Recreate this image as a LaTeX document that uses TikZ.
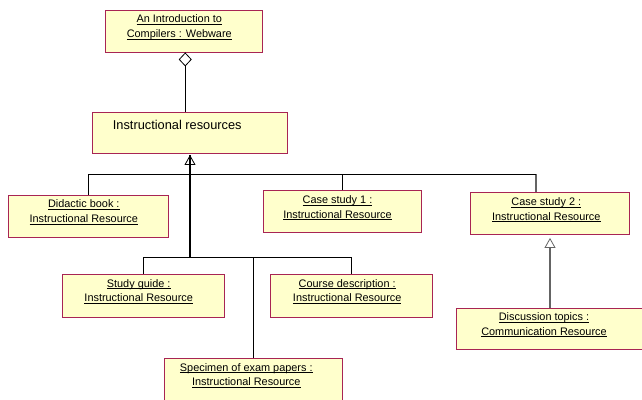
\documentclass[tikz,border=0pt]{standalone}
\usepackage{fontspec}
\setmainfont{Liberation Sans}
\usetikzlibrary{arrows.meta,calc}
\definecolor{boxfill}{RGB}{255,255,204}
\definecolor{boxline}{RGB}{168,36,84}
\definecolor{linkgray}{RGB}{100,100,100}
% underline at a fixed depth below the baseline
\newcommand{\uln}[1]{\setbox0\hbox{#1}\rlap{\rule[-2.2pt]{\wd0}{0.75pt}}\box0}
\begin{document}
\begin{tikzpicture}[x=1pt,y=-1pt,
  obj/.style={draw=boxline, fill=boxfill, line width=0.9pt, inner sep=0pt},
  lbl/.style={font=\fontsize{10.9}{14.7}\selectfont, align=center, inner sep=0pt},
  link/.style={draw, line width=0.8pt},
  greylink/.style={draw=linkgray, line width=1.4pt},
  gentip/.style={-{Triangle[open,length=10pt,width=11pt,line width=0.8pt]}}
]
\useasboundingbox (0,0) rectangle (642,399);
\clip (0,0) rectangle (642,399);

% object boxes
\node[obj, minimum width=156.5pt, minimum height=42pt] (top) at (183.75,31) {};
\node[obj, minimum width=195.4pt, minimum height=41pt] (ir) at (190,132.5) {};
\node[obj, minimum width=160pt, minimum height=42pt] (did) at (88.3,216) {};
\node[obj, minimum width=158pt, minimum height=41.3pt] (cs1) at (342,211.3) {};
\node[obj, minimum width=158.3pt, minimum height=41.3pt] (cs2) at (549.8,213.3) {};
\node[obj, minimum width=162.3pt, minimum height=43pt] (sg) at (143.2,295.5) {};
\node[obj, minimum width=162pt, minimum height=43pt] (cd) at (351.7,295.5) {};
\node[obj, minimum width=178.7pt, minimum height=43pt] (sp) at (253.3,379.5) {};
\node[obj, minimum width=192pt, minimum height=41.7pt] (dt) at (552.7,328.8) {};

% labels
\node[lbl] (top-t) at ($(top)+(-4.5,-4)$) {\uln{An Introduction to}\\\uln{Compilers : Webware}};
\node[anchor=west, inner sep=0pt, font=\fontsize{12.8}{15}\selectfont] (ir-t) at (112.7,125) {Instructional resources};
\node[lbl] (did-t) at ($(did)+(-4.5,-4)$) {\uln{Didactic book :}\\\uln{Instructional Resource}};
\node[lbl] (cs1-t) at ($(cs1)+(-4.5,-3.5)$) {\uln{Case study 1 :}\\\uln{Instructional Resource}};
\node[lbl] (cs2-t) at ($(cs2)+(-3.5,-3.5)$) {\uln{Case study 2 :}\\\uln{Instructional Resource}};
\node[lbl] (sg-t) at ($(sg)+(-4.5,-4)$) {\uln{Study guide :}\\\uln{Instructional Resource}};
\node[lbl] (cd-t) at ($(cd)+(-4.5,-4)$) {\uln{Course description :}\\\uln{Instructional Resource}};
\node[lbl] (sp-t) at ($(sp)+(-7,-4)$) {\uln{Specimen of exam papers :}\\\uln{Instructional Resource}};
\node[lbl] (dt-t) at ($(dt)+(-8.7,-4)$) {\uln{Discussion topics :}\\\uln{Communication Resource}};

% aggregation: the course is made of its instructional resources
\draw[link, {Diamond[open,length=14pt,width=13pt,line width=0.8pt]}-]
  ([xshift=1.5pt]top.south) -- ([xshift=1.5pt]top.south |- ir.north);

% generalization tree
\coordinate (j1) at (190,174);
\coordinate (j2) at (190,257.5);
\draw[link] (did.north) |- (j1);
\draw[link] (cs1.north) |- (j1);
\draw[greylink] ([xshift=-13.8pt]cs2.north) -- ([xshift=-13.8pt]cs2.north |- j1);
\draw[link] ([xshift=-13.8pt]cs2.north |- j1) -- (j1);
\draw[link] (sg.north) |- (j2);
\draw[link] (cd.north) |- (j2);
\draw[link] (sp.north) |- (j2);
\draw[line width=1.6pt] (j2) -- ([yshift=-1.5pt]ir.south);
\draw[link, gentip] ([yshift=-13.5pt]ir.south) -- ([yshift=-1.5pt]ir.south);

% specialization of case study 2
\draw[greylink, gentip, shorten >=3.5pt] ([xshift=-2.7pt]dt.north) -- ([xshift=-2.7pt]dt.north |- cs2.south);
\end{tikzpicture}
\end{document}
